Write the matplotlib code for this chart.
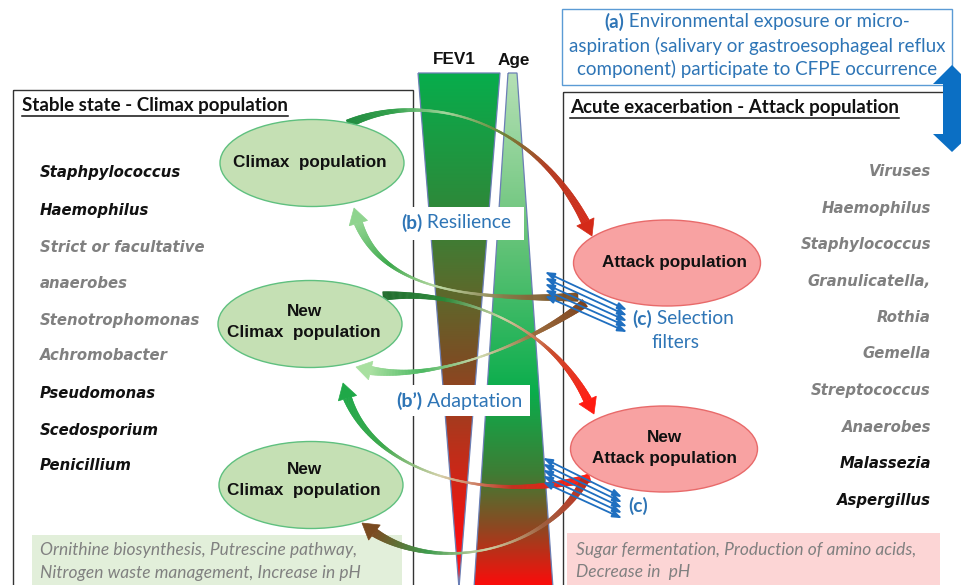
import numpy as np
import matplotlib
matplotlib.use('Agg')
import matplotlib.pyplot as plt
from matplotlib.patches import Ellipse, Rectangle, Polygon
from matplotlib.collections import PolyCollection
from matplotlib.colors import LinearSegmentedColormap

# ---- texts ----
left_title = 'Stable state - Climax population'
right_title = 'Acute exacerbation - Attack population'
left_species = ['Staphpylococcus', 'Haemophilus', 'Strict or facultative', 'anaerobes',
                'Stenotrophomonas', 'Achromobacter', 'Pseudomonas', 'Scedosporium', 'Penicillium']
left_species_dark = [True, True, False, False, False, False, True, True, True]
right_species = ['Viruses', 'Haemophilus', 'Staphylococcus', 'Granulicatella,', 'Rothia',
                 'Gemella', 'Streptococcus', 'Anaerobes', 'Malassezia', 'Aspergillus']
right_species_dark = [False] * 8 + [True, True]
top_note = ['Environmental exposure or micro-',
            'aspiration (salivary or gastroesophageal reflux',
            'component) participate to CFPE occurrence']
left_metab = ['Ornithine biosynthesis, Putrescine pathway,',
              'Nitrogen waste management, Increase in pH']
right_metab = ['Sugar fermentation, Production of amino acids,',
               'Decrease in  pH']

CAL = ['Lato', 'DejaVu Sans']
BLUE = '#2e75b6'
GRAY = '#808080'

W, H = 961, 585
fig = plt.figure(figsize=(W / 100, H / 100), dpi=100)
ax = fig.add_axes([0, 0, 1, 1])
ax.set_xlim(0, W)
ax.set_ylim(H, 0)
ax.axis('off')


def grad_poly(verts, stops):
    poly = Polygon(verts, closed=True, fc='none', ec='#6b7fb5', lw=0.9, zorder=3)
    ax.add_patch(poly)
    cmap = LinearSegmentedColormap.from_list('g', stops)
    xs = [v[0] for v in verts]
    ys = [v[1] for v in verts]
    grad = np.linspace(0, 1, 256).reshape(-1, 1)
    im = ax.imshow(grad, cmap=cmap, extent=(min(xs), max(xs), max(ys), min(ys)),
                   aspect='auto', zorder=2, interpolation='bilinear')
    im.set_clip_path(poly)


def ribbon(P, colors, wmax=8.5, wmin=1.6, hl=15, hw=9.5):
    P = np.array(P, float)
    t = np.linspace(0, 1, 300)
    pts = (((1 - t) ** 3)[:, None] * P[0] + (3 * (1 - t) ** 2 * t)[:, None] * P[1]
           + (3 * (1 - t) * t ** 2)[:, None] * P[2] + (t ** 3)[:, None] * P[3])
    seg = np.hypot(*np.diff(pts, axis=0).T)
    s = np.concatenate([[0], np.cumsum(seg)])
    keep = s <= s[-1] - hl
    body = pts[keep]
    tb = t[keep] / t[keep][-1]
    d = np.gradient(body, axis=0)
    d /= np.hypot(d[:, 0], d[:, 1])[:, None]
    n = np.stack([-d[:, 1], d[:, 0]], axis=1)
    w = wmin + (wmax - wmin) * (2 * tb - 1) ** 2
    L = body + n * (w / 2)[:, None]
    R = body - n * (w / 2)[:, None]
    cmap = LinearSegmentedColormap.from_list('r', colors)
    quads = [[L[i], L[i + 1], R[i + 1], R[i]] for i in range(len(body) - 1)]
    cols = [cmap(v) for v in tb[:-1]]
    ax.add_collection(PolyCollection(quads, facecolors=cols, edgecolors=cols, lw=0.4, zorder=4))
    tip = P[3]
    base = body[-1]
    dd = (tip - base) / np.hypot(*(tip - base))
    nn = np.array([-dd[1], dd[0]])
    ax.add_patch(Polygon([tip, base + nn * hw, base - nn * hw], closed=True,
                         fc=colors[-1], ec=colors[-1], lw=0.5, zorder=4))


def mixed(x, y, bold, rest, size, color, ha='left'):
    t1 = ax.text(x, y, bold, fontsize=size, color=color, fontweight='bold',
                 va='center', ha='left', family=CAL, zorder=8)
    t2 = ax.text(x, y, rest, fontsize=size, color=color, va='center', ha='left',
                 family=CAL, zorder=8)
    fig.canvas.draw()
    r = fig.canvas.get_renderer()
    w1 = t1.get_window_extent(r).width
    w2 = t2.get_window_extent(r).width
    x0 = x - (w1 + w2) / 2 if ha == 'center' else x
    t1.set_x(x0)
    t2.set_x(x0 + w1)


def underlined(x, y, s, size):
    t = ax.text(x, y, s, fontsize=size, fontweight='bold', color='#111111',
                va='center', ha='left', family=CAL, zorder=8)
    fig.canvas.draw()
    wd = t.get_window_extent(fig.canvas.get_renderer()).width
    ax.plot([x, x + wd], [y + 10, y + 10], color='#111111', lw=1.1, zorder=8)


# ---- panels ----
ax.add_patch(Rectangle((13, 90), 400, 520, fc='none', ec='#333333', lw=1.0, zorder=1))
ax.add_patch(Rectangle((563, 92), 450, 520, fc='none', ec='#333333', lw=1.0, zorder=1))
ax.add_patch(Rectangle((562, 9), 390, 76, fc='white', ec='#5b9bd5', lw=1.0, zorder=1))
ax.add_patch(Rectangle((32, 535), 370, 60, fc='#e2efda', ec='none', zorder=1))
ax.add_patch(Rectangle((567, 533), 373, 60, fc='#fcd5d5', ec='none', zorder=1))

# ---- FEV1 and Age wedges ----
grad_poly([(418, 73), (500, 73), (459, 588)],
          [(0, '#07ad4c'), (0.25, '#2c8a3a'), (0.42, '#5b6a2c'), (0.55, '#7a4f24'),
           (0.72, '#b8321b'), (0.9, '#f51010'), (1, '#ff2020')])
grad_poly([(508, 73), (517, 73), (553, 588), (474, 588)],
          [(0, '#b5e0b5'), (0.3, '#6cc57c'), (0.62, '#0aad4c'), (0.78, '#3f7c34'),
           (0.88, '#8a4a22'), (1, '#ff0a0a')])
ax.text(454, 60, 'FEV1', fontsize=12.3, fontweight='bold', ha='center', va='center',
        family='Liberation Sans', color='#111111')
ax.text(514, 60, 'Age', fontsize=12.3, fontweight='bold', ha='center', va='center',
        family='Liberation Sans', color='#111111')

# ---- curved ribbons ----
ribbon([(348, 124), (420, 90), (540, 115), (592, 236)],
       ['#1e8a3c', '#30a04a', '#a8d8a0', '#6a8a3a', '#b03a1e', '#d42a18'])
ribbon([(578, 297), (470, 300), (372, 292), (354, 208)],
       ['#7b4a1f', '#8a7a4a', '#c0dca8', '#3aa84a', '#8fd48f'])
ribbon([(585, 303), (520, 350), (420, 387), (356, 367)],
       ['#7b3f1a', '#9a6a3a', '#d0dcb0', '#4ab860', '#a8e0a0'])
ribbon([(383, 296), (470, 290), (560, 330), (594, 414)],
       ['#1e6a2a', '#2a8a3a', '#d0d4a8', '#c84a2a', '#ff1a10'])
ribbon([(590, 478), (480, 505), (362, 470), (343, 383)],
       ['#ff1a10', '#c83020', '#d4d0a8', '#3aa84a', '#1fa848'])
ribbon([(585, 480), (540, 560), (420, 575), (362, 523)],
       ['#c02818', '#a06040', '#d0d4a8', '#3a9a4a', '#7a4a20'])

# ---- blue selection filter arrows ----
arrow_style = '<|-|>,head_length=0.55,head_width=0.2'
for k in range(5):
    ax.annotate('', xy=(627, 310 + 5.5 * k), xytext=(545, 272 + 6 * k),
                arrowprops=dict(arrowstyle=arrow_style, color='#1f6fc0', lw=1.3,
                                shrinkA=0, shrinkB=0), zorder=6)
    ax.annotate('', xy=(622, 497 + 5.3 * k), xytext=(543, 458 + 6 * k),
                arrowprops=dict(arrowstyle=arrow_style, color='#1f6fc0', lw=1.3,
                                shrinkA=0, shrinkB=0), zorder=6)

# ---- blue double arrow (a) ----
ax.add_patch(Polygon([(952, 65), (971, 84), (961, 84), (961, 134), (971, 134), (952, 152),
                      (933, 134), (943, 134), (943, 84), (933, 84)], closed=True,
                     fc='#0b6fc4', ec='none', zorder=6))

# ---- populations ----
green_ells = [(312, 163), (310, 324), (311, 485)]
for cx, cy in green_ells:
    ax.add_patch(Ellipse((cx, cy), 184, 87, fc='#c5e0b4', ec='#5fc07f', lw=1.0, zorder=5))
red_ells = [(667, 263), (664, 449)]
for cx, cy in red_ells:
    ax.add_patch(Ellipse((cx, cy), 187, 86, fc='#f8a2a2', ec='#e86a6a', lw=1.0, zorder=5))

ef = dict(fontsize=12.3, fontweight='bold', ha='center', va='center',
          family='Liberation Sans', color='#111111', zorder=8)
ax.text(310, 163, 'Climax  population', **ef)
ax.text(304, 311, 'New', **ef)
ax.text(304, 332, 'Climax  population', **ef)
ax.text(304, 470, 'New', **ef)
ax.text(304, 491, 'Climax  population', **ef)
ax.text(674, 263, 'Attack population', **ef)
ax.text(664, 437, 'New', **ef)
ax.text(664, 459, 'Attack population', **ef)

# ---- label boxes ----
ax.add_patch(Rectangle((397, 207), 127, 33, fc='white', ec='none', zorder=7))
ax.add_patch(Rectangle((387, 385), 143, 31, fc='white', ec='none', zorder=7))
mixed(456, 223, '(b)', ' Resilience', 13.8, BLUE, ha='center')
mixed(459, 401, '(b\u2019)', ' Adaptation', 14, BLUE, ha='center')
mixed(632, 319, '(c)', ' Selection', 13.8, BLUE)
ax.text(675, 343, 'filters', fontsize=13.8, color=BLUE, ha='center', va='center', family=CAL)
ax.text(628, 506, '(c)', fontsize=13.8, fontweight='bold', color=BLUE, ha='left',
        va='center', family=CAL)

mixed(757, 22, '(a)', ' ' + top_note[0], 13.5, BLUE, ha='center')
ax.text(757, 46, top_note[1], fontsize=13.5, color=BLUE, ha='center', va='center', family=CAL)
ax.text(757, 69, top_note[2], fontsize=13.5, color=BLUE, ha='center', va='center', family=CAL)

# ---- titles ----
underlined(22, 106, left_title, 13.5)
underlined(570, 108, right_title, 13.5)

# ---- species lists ----
sf = dict(fontsize=10.7, fontweight='bold', fontstyle='italic', va='center',
          family='DejaVu Sans', zorder=8)
ys_left = [173, 211, 247, 283, 320, 356, 393, 430, 466]
for name, dark, y in zip(left_species, left_species_dark, ys_left):
    ax.text(40, y, name, ha='left', color='#111111' if dark else GRAY, **sf)
ys_right = [171, 208, 245, 281, 318, 354, 391, 427, 464, 500]
for name, dark, y in zip(right_species, right_species_dark, ys_right):
    ax.text(931, y, name, ha='right', color='#111111' if dark else GRAY, **sf)

# ---- metabolism notes ----
mf = dict(fontsize=12.5, fontstyle='italic', color=GRAY, ha='left', va='center',
          family=CAL, zorder=8)
ax.text(40, 550, left_metab[0], **mf)
ax.text(40, 573, left_metab[1], **mf)
ax.text(576, 550, right_metab[0], **mf)
ax.text(576, 572, right_metab[1], **mf)

ax.set_xlim(0, W)
ax.set_ylim(H, 0)
fig.savefig('out.png', dpi=100)
